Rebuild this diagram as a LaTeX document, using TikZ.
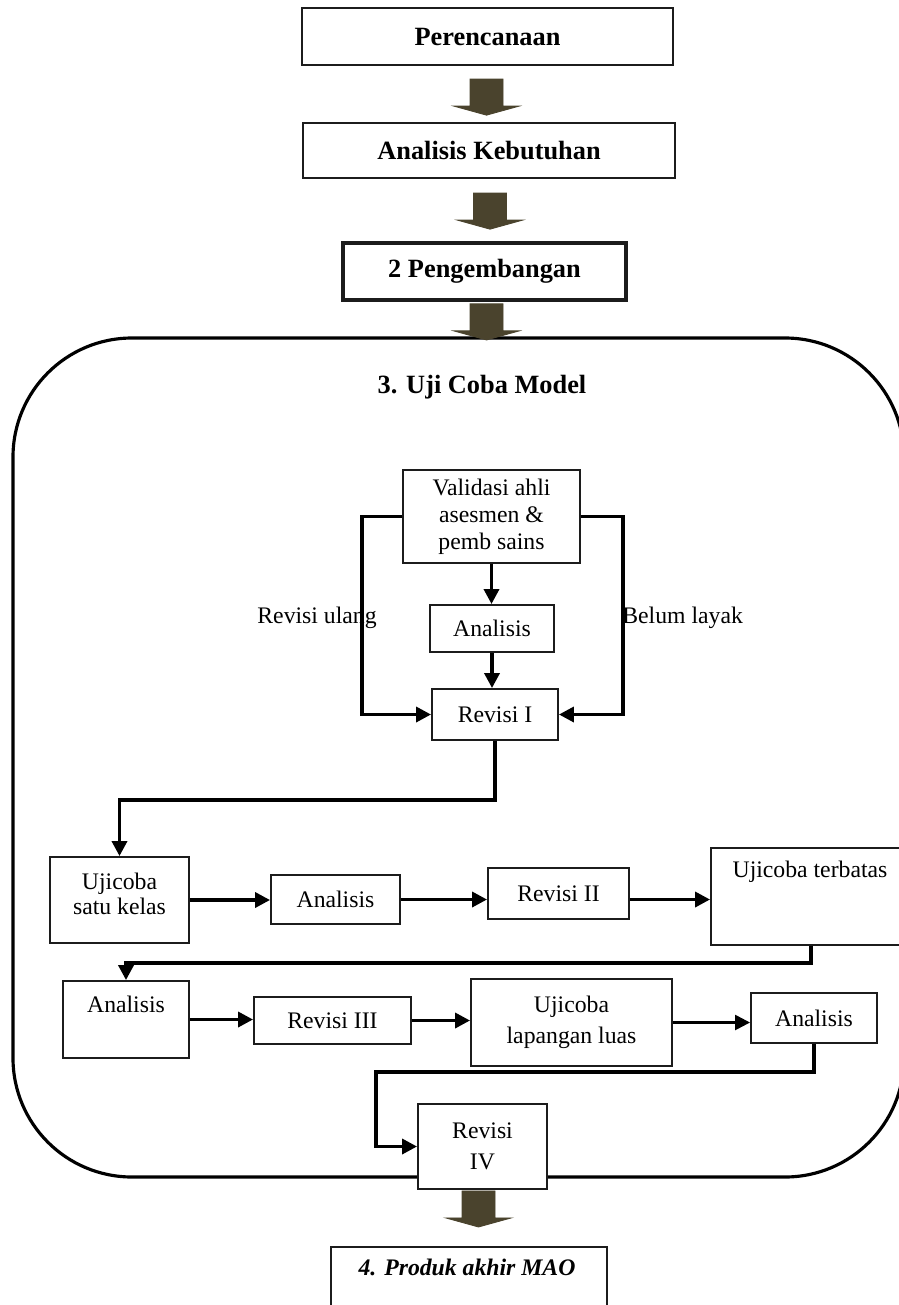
\documentclass[tikz,border=0pt]{standalone}
\usepackage{fontspec}
\setmainfont{Liberation Serif}
\usetikzlibrary{arrows.meta,calc}
\definecolor{shaftcol}{RGB}{74,67,45}
\definecolor{edgecol}{RGB}{28,28,28}

\begin{document}
\begin{tikzpicture}[x=0.02cm,y=-0.02cm,
  box/.style={draw=edgecol,line width=1.1pt,fill=white,inner sep=0pt,align=center,
    font=\fontsize{13.5}{15.5}\selectfont},
  headbox/.style={box,line width=1.3pt,font=\fontsize{15}{17}\selectfont\bfseries},
  txt/.style={inner sep=0pt,align=center,font=\fontsize{13.5}{15.5}\selectfont},
  conn/.style={line width=2pt,-{Triangle[length=8.5pt,width=8.5pt]}},
  bigarrow/.pic={
    \filldraw[shaftcol,line width=0.5pt]
      (-16.5,0) -- (16.5,0) -- (16.5,27) -- (32.5,27) -- (0,36)
      -- (-32.5,27) -- (-16.5,27) -- cycle;
  }
]
\useasboundingbox (0,0) rectangle (899,1305);
\clip (0,0) rectangle (899,1305);

% rounded frame of the model trial stage
\draw[line width=1.8pt,rounded corners=2.38cm] (13,338) rectangle (904,1177);
\node[inner sep=0pt,font=\fontsize{15}{17}\selectfont\bfseries] (title) at (482,387) {3. Uji Coba Model};

% top stages
\node[headbox,minimum width=7.42cm,minimum height=1.14cm] (per) at (487.5,36.5) {Perencanaan};
\node[headbox,minimum width=7.44cm,minimum height=1.10cm] (keb) at (489,150.5) {Analisis Kebutuhan};
\node[headbox,line width=2.2pt,minimum width=5.66cm,minimum height=1.14cm] (peng) at (484.5,271.5) {2 Pengembangan};

% expert validation block
\node[box,minimum width=3.54cm,minimum height=1.86cm,font=\fontsize{13.5}{15.3}\selectfont] (val) at (491.5,516.5)
  {Validasi ahli\\asesmen \&\\pemb sains};
\node[box,minimum width=2.48cm,minimum height=0.94cm] (an1) at (492,628.5) {Analisis};
\node[box,minimum width=2.52cm,minimum height=1.02cm] (rev1) at (495,714.5) {Revisi I};

% second row
\node[box,minimum width=2.78cm,minimum height=1.72cm] (usk) at (119.5,900) {};
\node[txt,font=\fontsize{13.5}{14.5}\selectfont] at ($(usk.north)+(0,38)$) {Ujicoba\\satu kelas};
\node[box,minimum width=2.58cm,minimum height=0.98cm] (an2) at (335.5,899.5) {Analisis};
\node[box,minimum width=2.82cm,minimum height=1.02cm] (rev2) at (558.5,893.5) {Revisi II};
\node[box,minimum width=4.00cm,minimum height=1.94cm] (uter) at (811,896.5) {};
\node[txt] at ($(uter.north)+(-1,25)$) {Ujicoba terbatas};

% third row
\node[box,minimum width=2.52cm,minimum height=1.54cm] (an3) at (126,1019.5) {};
\node[txt] at ($(an3.north)+(0,24)$) {Analisis};
\node[box,minimum width=3.14cm,minimum height=0.94cm] (rev3) at (332.5,1020.5) {Revisi III};
\node[box,minimum width=4.02cm,minimum height=1.74cm,font=\fontsize{13.5}{18}\selectfont] (ulap) at (571.5,1022.5)
  {Ujicoba\\lapangan luas};
\node[box,minimum width=2.52cm,minimum height=1.00cm] (an4) at (814,1018) {Analisis};

% last revision and final product
\node[box,minimum width=2.58cm,minimum height=1.70cm,font=\fontsize{13.5}{17.6}\selectfont] (rev4) at (482.5,1146.5)
  {Revisi\\IV};
\node[box,minimum width=5.52cm,minimum height=1.86cm] (prod) at (469,1293.5) {};
\node[txt,font=\fontsize{13.5}{15.5}\selectfont\bfseries\itshape] at ($(prod.north)+(-2,21)$) {4. Produk akhir MAO};

% side labels
\node[txt,anchor=east] (lblA) at (377,618) {Revisi ulang};
\node[txt,anchor=west] (lblB) at (622,618) {Belum layak};

% connectors
\coordinate (vl) at (362,600);
\coordinate (vr) at (623,600);
\coordinate (b1) at (300,800);
\coordinate (b2) at (500,963);
\coordinate (b3) at (376,1072);

\draw[conn] (val.south) -- (val.south |- an1.north);
\draw[conn] (an1.south) -- (an1.south |- rev1.north);
\draw[conn] (val.west) -| (vl) |- (rev1.west);
\draw[conn] (val.east) -| (vr) |- (rev1.east);
\draw[conn] (rev1.south) |- (b1) -| (usk.north);
\draw[conn] (usk.east) -- (usk.east -| an2.west);
\draw[conn] (an2.east) -- (an2.east -| rev2.west);
\draw[conn] (an2.east -| rev2.east) -- (an2.east -| uter.west);
\draw[conn] (uter.south) |- (b2) -| (an3.north);
\draw[conn] (an3.east) -- (an3.east -| rev3.west);
\draw[conn] (rev3.east) -- (rev3.east -| ulap.west);
\draw[conn,line width=1.4pt] (ulap.east) -- (ulap.east -| an4.west);
\draw[conn] (an4.south) |- (b3) |- (rev4.west);

% block arrows between the stages
\pic at ($(per.south)+(-1,13)$) {bigarrow};
\pic at ($(keb.south)+(1,14)$) {bigarrow};
\pic at ($(peng.south)+(2,2)$) {bigarrow};
\pic at ($(rev4.south)+(-4,1)$) {bigarrow};
\end{tikzpicture}
\end{document}
